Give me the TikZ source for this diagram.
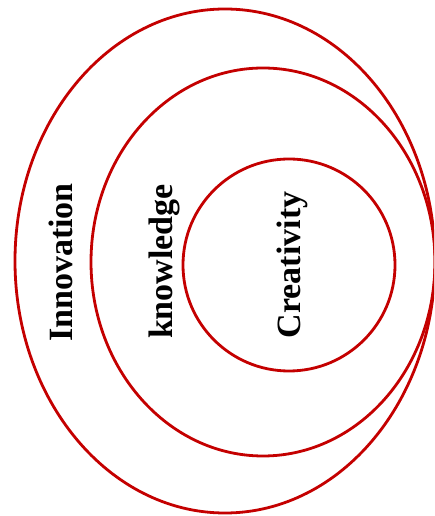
\documentclass[tikz,border=0pt]{standalone}
\usepackage{fontspec}
\setmainfont{Liberation Serif}
\usetikzlibrary{calc}
\definecolor{ringred}{RGB}{196,0,0}
\tikzset{ring/.style={draw=ringred, line width=2.8pt},
  ringlabel/.style={font=\fontsize{34}{40}\selectfont\bfseries, rotate=90, anchor=base, inner sep=0pt}}

\begin{document}
\begin{tikzpicture}[x=1pt, y=1pt]
        \useasboundingbox (0,0) rectangle (434,516);
        \clip (0,0) rectangle (434,516);
        \coordinate (OuterC) at (225,255);
        \coordinate (MidC) at (263,254);
        \coordinate (InnerC) at (289,251);
        \draw[ring] (OuterC) ellipse (210pt and 252pt);
        \draw[ring] (MidC) ellipse (172pt and 194pt);
        \draw[ring] (InnerC) circle (106pt);
        \node[ringlabel] (innov) at (72,253.5) {Innovation};
        \node[ringlabel] (know) at (172,254.5) {knowledge};
        \node[ringlabel] (creat) at (300,251) {Creativity};
    \end{tikzpicture}
\end{document}
